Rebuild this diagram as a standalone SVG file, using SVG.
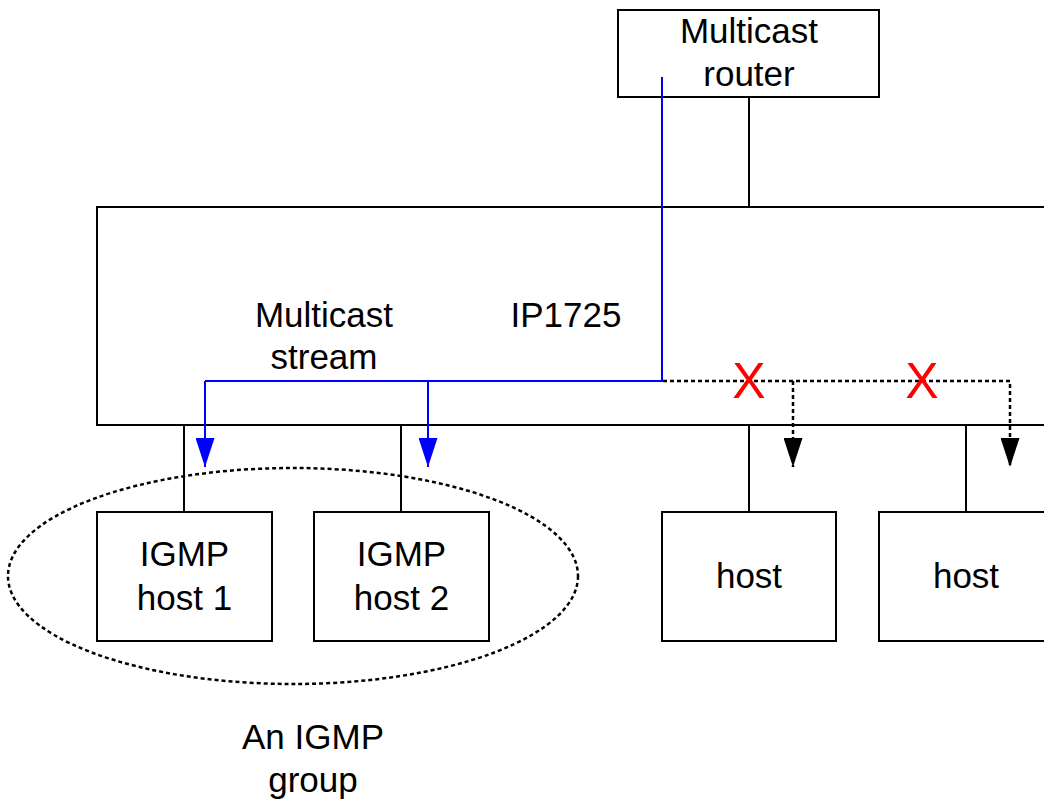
<svg xmlns="http://www.w3.org/2000/svg" width="1044" height="802" viewBox="0 0 1044 802">
<style>
.box{fill:#fff;stroke:#000;stroke-width:2}
.ln{stroke:#000;stroke-width:2;fill:none}
.t{font-family:"Liberation Sans",Arial,sans-serif;font-size:35px;fill:#000;text-anchor:middle}
.blue{stroke:#0000ff;stroke-width:2;fill:none}
.dot{stroke:#000;stroke-width:2.5;fill:none;stroke-dasharray:4 3}
.x{font-family:"Liberation Sans",Arial,sans-serif;font-size:50px;fill:#ff0000;text-anchor:middle}
</style>
<defs>
<marker id="ab" viewBox="0 0 29 19" refX="29" refY="9.5" markerWidth="29" markerHeight="19" markerUnits="userSpaceOnUse" orient="auto">
<path d="M0,0 L29,9.5 L0,19 Z" fill="#0000ff"/>
</marker>
<marker id="ak" viewBox="0 0 29 19" refX="29" refY="9.5" markerWidth="29" markerHeight="19" markerUnits="userSpaceOnUse" orient="auto">
<path d="M0,0 L29,9.5 L0,19 Z" fill="#000"/>
</marker>
</defs>
<rect width="1044" height="802" fill="#fff"/>

<g id="switch">
<rect class="box" x="97" y="207" width="970" height="218"/>
<text class="t" x="566" y="327">IP1725</text>
</g>

<g id="router">
<rect class="box" x="618" y="10" width="261" height="87"/>
<text class="t" x="749" y="43">Multicast</text>
<text class="t" x="749" y="86">router</text>
</g>

<g id="host1">
<rect class="box" x="97" y="512" width="175" height="129"/>
<text class="t" x="184.5" y="566">IGMP</text>
<text class="t" x="184.5" y="610">host 1</text>
</g>

<g id="host2">
<rect class="box" x="314" y="512" width="175" height="129"/>
<text class="t" x="401.5" y="566">IGMP</text>
<text class="t" x="401.5" y="610">host 2</text>
</g>

<g id="host3">
<rect class="box" x="662" y="512" width="174" height="129"/>
<text class="t" x="749" y="588">host</text>
</g>

<g id="host4">
<rect class="box" x="879" y="512" width="180" height="129"/>
<text class="t" x="966" y="588">host</text>
</g>

<g id="connectors">
<line class="ln" x1="749" y1="97" x2="749" y2="207"/>
<line class="ln" x1="184" y1="425" x2="184" y2="512"/>
<line class="ln" x1="401" y1="425" x2="401" y2="512"/>
<line class="ln" x1="749" y1="425" x2="749" y2="512"/>
<line class="ln" x1="966" y1="425" x2="966" y2="512"/>

<polyline class="blue" points="662,77 662,381 205,381"/>
<line class="blue" x1="205" y1="381" x2="205" y2="467" marker-end="url(#ab)"/>
<line class="blue" x1="428" y1="381" x2="428" y2="467" marker-end="url(#ab)"/>

<polyline class="dot" points="663,381 1010,381 1010,440"/>
<line class="dot" x1="1010" y1="440" x2="1010" y2="467" marker-end="url(#ak)"/>
<line class="dot" x1="793" y1="381" x2="793" y2="467" marker-end="url(#ak)"/>

<text class="t" x="324" y="327">Multicast</text>
<text class="t" x="324" y="369">stream</text>
<text class="x" x="749" y="398">X</text>
<text class="x" x="922" y="398">X</text>
</g>

<g id="group">
<ellipse cx="293" cy="576" rx="285" ry="108" class="dot"/>
<text class="t" x="313" y="749">An IGMP</text>
<text class="t" x="313" y="792">group</text>
</g>
</svg>
